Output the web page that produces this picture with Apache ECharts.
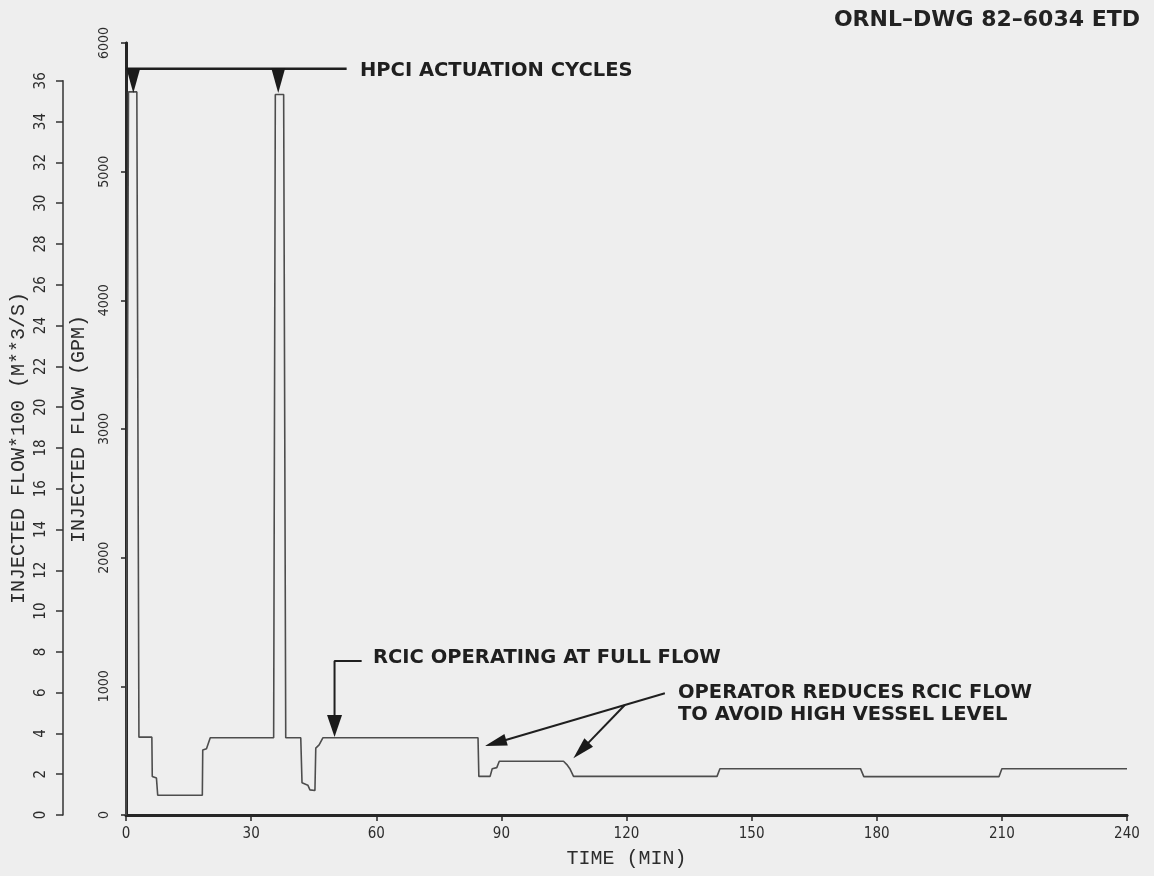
<!DOCTYPE html>
<html>
<head>
<meta charset="utf-8">
<script src="https://cdn.jsdelivr.net/npm/echarts@6/dist/echarts.min.js"></script>
<style>
  html, body { margin: 0; padding: 0; background: #eeeeee; }
  #chart { width: 1154px; height: 876px; }
</style>
</head>
<body>
<div id="chart"></div>
<script>
// Injected flow history (time in minutes, flow in gpm)
const flowTime = [0, 0.6, 2.6, 3.1, 6.2, 6.3, 7.3, 7.6, 18.3, 18.4, 19.3, 20.2,
  35.4, 35.8, 37.8, 38.3, 41.9, 42.2, 43.6, 44.1, 45.3, 45.5, 46.3, 47.2,
  84.4, 84.6, 87.3, 87.8, 88.9, 89.5, 104.9, 105.7, 106.5, 107.3,
  141.7, 142.4, 176.1, 176.9, 209.3, 210.0, 240];
const flowGpm = [0, 5620, 5620, 605, 605, 300, 287, 153, 153, 505, 515, 600,
  600, 5600, 5600, 600, 600, 250, 232, 195, 190, 520, 545, 600,
  600, 300, 300, 360, 368, 418, 418, 392, 355, 300,
  300, 360, 360, 298, 298, 360, 360];

// Axis ticks
const timeTicks = [0, 30, 60, 90, 120, 150, 180, 210, 240];
const gpmTicks = [0, 1000, 2000, 3000, 4000, 5000, 6000];
const m3sTicks = [0, 2, 4, 6, 8, 10, 12, 14, 16, 18, 20, 22, 24, 26, 28, 30, 32, 34, 36];
const GPM_PER_M3S_X100 = 158.5; // 0.01 m^3/s expressed in gpm

// Annotation geometry (time, gpm)
const hpciLineTime = [0, 52.9];
const hpciLineGpm = [5800, 5800];
const hpciMarkTime = [1.75, 36.5];
const hpciMarkGpm = [5708, 5708];
const rcicArrowTime = [56.5, 50.0, 50.0];
const rcicArrowGpm = [1197, 1197, 700];
const opArrow1Time = [129.2, 88.6];
const opArrow1Gpm = [946, 560];
const opArrow2Time = [119.6, 109.1];
const opArrow2Gpm = [855, 502];
// Arrowhead centres and rotation (deg, counter-clockwise)
const headTime = [50.0, 88.6, 109.1];
const headGpm = [692, 560, 502];
const headRot = [180, 106.3, 135.9];

const zip = (a, b) => a.map((v, i) => [v, b[i]]);

const GRID = { left: 126, right: 27, top: 43, bottom: 61 };
const H = 876;
const plotBottom = H - GRID.bottom;
const plotH = H - GRID.top - GRID.bottom;
const m3sTop = plotBottom - m3sTicks[m3sTicks.length - 1] * GPM_PER_M3S_X100 * plotH / 6000;

const ink = '#262626';
const tickFont = "'Liberation Sans Narrow','DejaVu Sans Condensed',sans-serif";
const nameFont = "'Liberation Mono','DejaVu Sans Mono',monospace";
const noteFont = "'DejaVu Sans',sans-serif";
const plain = v => String(v);

const chart = echarts.init(document.getElementById('chart'), null, { renderer: 'canvas' });

const noteText = (txt, x, y) => ({
  type: 'text', x: x, y: y,
  style: { text: txt, fill: '#1f1f1f', font: "bold 19.5px " + noteFont,
           textVerticalAlign: 'middle', textAlign: 'left' }
});

chart.setOption({
  animation: false,
  backgroundColor: '#eeeeee',
  grid: [
    { left: GRID.left, right: GRID.right, top: GRID.top, bottom: GRID.bottom },
    { left: 63, width: 10, top: m3sTop, bottom: GRID.bottom }
  ],
  xAxis: [
    {
      type: 'value', gridIndex: 0, min: timeTicks[0], max: timeTicks[timeTicks.length - 1], interval: 30,
      name: 'TIME (MIN)', nameLocation: 'middle', nameGap: 34,
      nameTextStyle: { fontFamily: nameFont, fontSize: 20, color: '#2c2c2c' },
      axisLine: { lineStyle: { color: ink, width: 3 } },
      axisTick: { inside: false, length: 6, lineStyle: { color: ink, width: 1.5 } },
      axisLabel: { margin: 12, fontFamily: tickFont, fontSize: 15, color: '#2c2c2c', formatter: plain },
      splitLine: { show: false }
    },
    {
      type: 'value', gridIndex: 0, position: 'top', min: 0, max: 240,
      axisLine: { lineStyle: { color: ink, width: 2.5 } },
      axisTick: { show: false }, axisLabel: { show: false }, splitLine: { show: false }
    },
    { type: 'value', gridIndex: 1, show: false, min: 0, max: 1 }
  ],
  yAxis: [
    {
      type: 'value', gridIndex: 0, position: 'left', min: gpmTicks[0], max: gpmTicks[gpmTicks.length - 1], interval: 1000,
      name: 'INJECTED FLOW (GPM)', nameLocation: 'middle', nameGap: 36, nameRotate: 90,
      nameTextStyle: { fontFamily: nameFont, fontSize: 20, color: '#2c2c2c' },
      axisLine: { show: true, lineStyle: { color: ink, width: 3 } },
      axisTick: { show: true, length: 5, lineStyle: { color: ink, width: 1.5 } },
      axisLabel: { rotate: 90, margin: 15, fontFamily: tickFont, fontSize: 14, color: '#2c2c2c', formatter: plain },
      splitLine: { show: false }
    },
    {
      type: 'value', gridIndex: 0, position: 'right', min: 0, max: 6000,
      axisLine: { show: true, lineStyle: { color: ink, width: 2.5 } },
      axisTick: { show: false }, axisLabel: { show: false }, splitLine: { show: false }
    },
    {
      type: 'value', gridIndex: 1, position: 'left', min: m3sTicks[0], max: m3sTicks[m3sTicks.length - 1], interval: 2,
      name: 'INJECTED FLOW*100 (M**3/S)', nameLocation: 'middle', nameGap: 34, nameRotate: 90,
      nameTextStyle: { fontFamily: nameFont, fontSize: 20, color: '#2c2c2c' },
      axisLine: { show: true, lineStyle: { color: '#333333', width: 1.5 } },
      axisTick: { show: true, length: 7, lineStyle: { color: '#333333', width: 1.5 } },
      axisLabel: { rotate: 90, margin: 14, fontFamily: tickFont, fontSize: 15, color: '#2c2c2c', formatter: plain },
      splitLine: { show: false }
    }
  ],
  series: [
    {
      name: 'Injected flow', type: 'line', xAxisIndex: 0, yAxisIndex: 0,
      data: zip(flowTime, flowGpm), showSymbol: false, symbol: 'none',
      lineStyle: { color: '#4d4d4d', width: 1.6 }, z: 3
    },
    {
      type: 'line', xAxisIndex: 0, yAxisIndex: 0, data: zip(hpciLineTime, hpciLineGpm),
      symbol: 'none', lineStyle: { color: '#1f1f1f', width: 2.5 }, z: 4
    },
    {
      type: 'line', xAxisIndex: 0, yAxisIndex: 0, data: zip(rcicArrowTime, rcicArrowGpm),
      symbol: 'none', lineStyle: { color: '#1f1f1f', width: 2 }, z: 4
    },
    {
      type: 'line', xAxisIndex: 0, yAxisIndex: 0, data: zip(opArrow1Time, opArrow1Gpm),
      symbol: 'none', lineStyle: { color: '#1f1f1f', width: 2 }, z: 4
    },
    {
      type: 'line', xAxisIndex: 0, yAxisIndex: 0, data: zip(opArrow2Time, opArrow2Gpm),
      symbol: 'none', lineStyle: { color: '#1f1f1f', width: 2 }, z: 4
    },
    {
      type: 'scatter', xAxisIndex: 0, yAxisIndex: 0, symbol: 'triangle',
      data: hpciMarkTime.map((t, i) => ({ value: [t, hpciMarkGpm[i]], symbolSize: [14, 25], symbolRotate: 180 })),
      itemStyle: { color: '#1a1a1a', opacity: 1 }, z: 5
    },
    {
      type: 'scatter', xAxisIndex: 0, yAxisIndex: 0, symbol: 'triangle',
      data: headTime.map((t, i) => ({ value: [t, headGpm[i]], symbolSize: i === 0 ? [15, 22] : [12, 22], symbolRotate: headRot[i] })),
      itemStyle: { color: '#1a1a1a', opacity: 1 }, z: 5
    }
  ],
  graphic: [
    noteText('HPCI ACTUATION CYCLES', 360, 71),
    noteText('RCIC OPERATING AT FULL FLOW', 373, 658),
    noteText('OPERATOR REDUCES RCIC FLOW', 678, 693),
    noteText('TO AVOID HIGH VESSEL LEVEL', 678, 715),
    {
      type: 'text', x: 1140, y: 20,
      style: { text: 'ORNL–DWG 82–6034 ETD', fill: '#222222', font: "bold 22px " + noteFont,
               textAlign: 'right', textVerticalAlign: 'middle' }
    }
  ]
});
</script>
</body>
</html>
